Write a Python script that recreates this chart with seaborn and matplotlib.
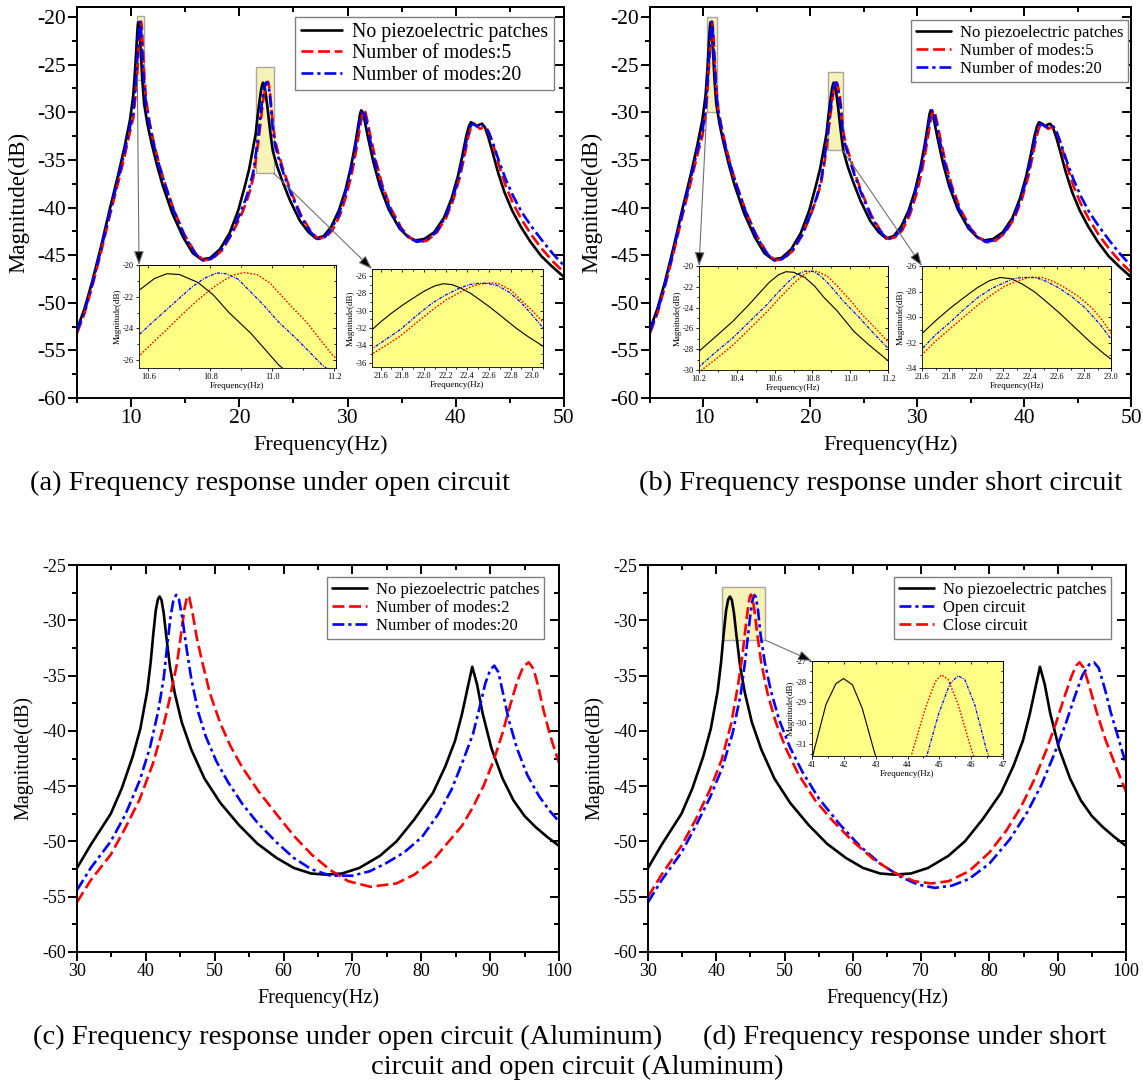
import matplotlib
matplotlib.use("Agg")
import matplotlib.pyplot as plt
from matplotlib.patches import Rectangle
from matplotlib.ticker import MultipleLocator, NullFormatter
import seaborn as sns

# ── Data: panel (a)/(b) – steel beam, 5–50 Hz ──────────────────────────────────
# no piezoelectric patches (same curve in a and b)
AB_BLACK_F = [5.0, 5.7, 6.4, 7.2, 8.0, 8.8, 9.4, 9.9, 10.2, 10.3, 10.38, 10.46, 10.52, 10.57,
              10.62, 10.66, 10.70, 10.76, 10.81, 10.86, 10.93, 11.02, 11.1, 11.2, 11.5, 11.9,
              12.4, 12.9, 13.8, 14.8, 15.7, 16.5, 17.3, 18.2, 19.1, 19.9, 20.5, 20.9, 21.2,
              21.52, 21.6, 21.7, 21.81, 21.92, 22.01, 22.1, 22.18, 22.26, 22.34, 22.43, 22.51,
              22.62, 22.73, 22.85, 22.95, 23.05, 23.1, 23.5, 24.0, 24.7, 25.6, 26.4, 27.1, 27.8,
              28.5, 29.2, 29.8, 30.3, 30.7, 31.0, 31.15, 31.26, 31.4, 31.6, 31.9, 32.4, 33.0,
              33.8, 34.8, 35.6, 36.3, 37.1, 38.0, 38.9, 39.6, 40.2, 40.6, 40.95, 41.2, 41.4,
              41.7, 41.96, 42.2, 42.43, 42.7, 43.0, 43.4, 43.9, 44.5, 45.2, 46.0, 46.9, 47.9,
              48.9, 50.0]
AB_BLACK_DB = [-52.8, -50.6, -47.8, -44.2, -40.3, -36.6, -33.6, -30.8, -28.2, -26.6, -25.3, -23.8,
               -22.6, -21.6, -20.85, -20.55, -20.6, -21.1, -21.9, -23.0, -24.3, -26.3, -27.6,
               -29.1, -31.2, -33.3, -35.6, -37.6, -40.6, -43.1, -44.8, -45.45, -45.3, -44.4,
               -42.7, -40.3, -37.8, -36.0, -34.2, -32.2, -31.3, -30.3, -29.3, -28.4, -27.7,
               -27.15, -26.9, -27.0, -27.4, -28.0, -28.7, -29.7, -30.8, -32.0, -32.9, -33.7,
               -34.1, -35.7, -37.3, -39.3, -41.4, -42.6, -43.25, -43.0, -42.0, -40.3, -38.2,
               -35.8, -33.4, -31.3, -30.2, -29.8, -30.0, -31.0, -32.7, -35.3, -37.8, -40.2,
               -42.2, -43.1, -43.45, -43.3, -42.6, -41.1, -39.1, -36.7, -34.6, -32.6, -31.5,
               -31.05, -31.2, -31.45, -31.3, -31.2, -31.6, -32.6, -34.2, -36.3, -38.4, -40.3,
               -42.0, -43.6, -45.1, -46.2, -47.3]

# (a) open circuit, number of modes 5
A_RED_F = [5.0, 5.7, 6.4, 7.2, 8.0, 8.8, 9.4, 9.9, 10.2, 10.4, 10.5, 10.57, 10.62, 10.66, 10.71,
           10.76, 10.81, 10.85, 10.88, 10.91, 10.95, 10.99, 11.03, 11.07, 11.11, 11.15, 11.19,
           11.25, 11.4, 11.7, 12.1, 12.6, 13.1, 13.9, 14.9, 15.9, 16.7, 17.5, 18.4, 19.3, 20.1,
           20.6, 21.0, 21.3, 21.52, 21.65, 21.78, 21.93, 22.08, 22.2, 22.33, 22.44, 22.54, 22.62,
           22.69, 22.8, 22.9, 23.0, 23.1, 23.3, 23.6, 24.1, 24.8, 25.7, 26.6, 27.3, 28.0, 28.6,
           29.3, 29.9, 30.4, 30.8, 31.1, 31.35, 31.5, 31.65, 31.85, 32.15, 32.6, 33.2, 34.0,
           35.0, 35.8, 36.5, 37.3, 38.2, 39.1, 39.8, 40.4, 40.8, 41.15, 41.4, 41.65, 41.95,
           42.25, 42.5, 42.8, 43.1, 43.5, 44.0, 44.6, 45.3, 46.1, 47.0, 48.0, 49.0, 50.0]
A_RED_DB = [-53.2, -51.1, -48.3, -44.8, -41.0, -37.4, -34.6, -32.0, -30.6, -28.4, -27.0, -25.75,
            -24.8, -24.06, -23.1, -22.2, -21.4, -20.9, -20.6, -20.48, -20.6, -21.1, -21.95,
            -22.8, -23.6, -24.6, -25.6, -26.7, -28.8, -31.0, -33.2, -35.5, -37.4, -40.1, -42.8,
            -44.7, -45.55, -45.4, -44.5, -42.8, -41.0, -39.6, -38.2, -36.8, -35.0, -34.0,
            -32.95, -31.4, -29.9, -28.8, -27.9, -27.2, -26.9, -26.8, -26.9, -27.6, -28.8, -30.0,
            -31.3, -32.9, -34.3, -36.2, -38.4, -40.8, -42.5, -43.3, -43.1, -42.4, -40.8, -38.7,
            -36.4, -34.0, -31.9, -30.3, -29.8, -30.0, -31.0, -32.7, -35.0, -37.6, -40.1, -42.2,
            -43.2, -43.65, -43.5, -42.7, -41.1, -39.1, -36.7, -34.6, -32.6, -31.6, -31.2,
            -31.45, -31.75, -31.6, -31.6, -32.3, -33.6, -35.6, -37.7, -39.6, -41.3, -42.9,
            -44.4, -45.7, -46.8]

# (a) open circuit, number of modes 20
A_BLUE_F = [5.0, 5.7, 6.4, 7.2, 8.0, 8.8, 9.4, 9.9, 10.2, 10.4, 10.5, 10.57, 10.62, 10.66, 10.7,
            10.74, 10.78, 10.82, 10.85, 10.89, 10.93, 10.97, 11.02, 11.08, 11.16, 11.22, 11.4,
            11.7, 12.1, 12.6, 13.1, 13.9, 14.9, 15.9, 16.6, 17.4, 18.3, 19.2, 20.0, 20.6, 21.0,
            21.3, 21.52, 21.65, 21.78, 21.93, 22.08, 22.2, 22.33, 22.42, 22.5, 22.58, 22.68,
            22.79, 22.9, 23.0, 23.1, 23.3, 23.6, 24.1, 24.8, 25.7, 26.6, 27.2, 27.9, 28.5, 29.2,
            29.8, 30.3, 30.7, 31.0, 31.25, 31.4, 31.55, 31.75, 32.05, 32.5, 33.1, 33.9, 34.9,
            35.7, 36.4, 37.2, 38.1, 39.0, 39.7, 40.3, 40.7, 41.05, 41.3, 41.55, 41.85, 42.15,
            42.45, 42.75, 43.05, 43.45, 43.95, 44.6, 45.3, 46.1, 47.0, 48.0, 49.0, 50.0]
A_BLUE_DB = [-53.0, -50.9, -48.1, -44.5, -40.7, -37.0, -34.1, -31.5, -30.0, -27.4, -25.7, -24.4,
             -23.5, -22.8, -22.1, -21.4, -20.85, -20.5, -20.55, -20.9, -21.7, -22.5, -23.6,
             -24.7, -26.3, -27.2, -29.4, -31.3, -33.4, -35.6, -37.5, -40.2, -42.9, -44.8,
             -45.55, -45.4, -44.5, -42.9, -40.8, -39.1, -37.6, -36.2, -34.4, -33.3, -32.2,
             -30.6, -29.1, -28.2, -27.4, -27.0, -26.85, -26.85, -27.1, -27.9, -29.1, -30.5,
             -32.0, -33.4, -34.7, -36.5, -38.6, -41.0, -42.6, -43.3, -43.1, -42.3, -40.7, -38.5,
             -36.2, -33.8, -31.8, -30.2, -29.8, -30.0, -31.0, -32.7, -35.0, -37.6, -40.1, -42.2,
             -43.2, -43.6, -43.45, -42.7, -41.1, -39.1, -36.7, -34.6, -32.6, -31.6, -31.2,
             -31.4, -31.6, -31.4, -31.5, -32.1, -33.3, -35.0, -37.0, -38.8, -40.5, -42.0, -43.5,
             -44.9, -46.1]

# (b) short circuit, number of modes 5
B_RED_F = [5.0, 5.7, 6.4, 7.2, 8.0, 8.8, 9.4, 9.9, 10.2, 10.3, 10.38, 10.47, 10.56, 10.63, 10.7,
           10.75, 10.79, 10.83, 10.88, 10.93, 11.0, 11.07, 11.14, 11.2, 11.4, 11.7, 12.1, 12.6,
           13.1, 13.9, 14.9, 15.9, 16.7, 17.5, 18.4, 19.3, 20.1, 20.6, 21.0, 21.3, 21.6, 21.7,
           21.81, 21.91, 22.01, 22.11, 22.21, 22.3, 22.39, 22.49, 22.57, 22.66, 22.76, 22.86,
           22.94, 23.02, 23.3, 23.6, 24.1, 24.8, 25.7, 26.6, 27.3, 28.0, 28.6, 29.3, 29.9, 30.4,
           30.8, 31.1, 31.35, 31.5, 31.65, 31.85, 32.15, 32.6, 33.2, 34.0, 35.0, 35.8, 36.5,
           37.3, 38.2, 39.1, 39.8, 40.4, 40.8, 41.15, 41.4, 41.65, 41.95, 42.25, 42.5, 42.8,
           43.1, 43.5, 44.0, 44.6, 45.3, 46.1, 47.0, 48.0, 49.0, 50.0]
B_RED_DB = [-53.2, -51.1, -48.3, -44.8, -41.0, -37.4, -34.6, -32.5, -30.2, -28.8, -27.6, -26.0,
            -24.4, -23.0, -21.7, -20.9, -20.5, -20.55, -21.0, -21.9, -23.3, -24.8, -26.1, -27.3,
            -29.8, -31.6, -33.6, -35.8, -37.6, -40.2, -42.8, -44.7, -45.55, -45.4, -44.5, -42.8,
            -40.6, -39.0, -37.5, -35.5, -32.95, -31.9, -30.9, -30.0, -29.1, -28.3, -27.6, -27.2,
            -26.9, -26.9, -27.2, -27.7, -28.4, -29.3, -30.3, -31.6, -33.3, -34.3, -36.2, -38.4,
            -40.8, -42.5, -43.3, -43.1, -42.4, -40.8, -38.7, -36.4, -34.0, -31.9, -30.3, -29.8,
            -30.0, -31.0, -32.7, -35.0, -37.6, -40.1, -42.2, -43.2, -43.65, -43.5, -42.7, -41.1,
            -39.1, -36.7, -34.6, -32.6, -31.6, -31.2, -31.45, -31.75, -31.6, -31.6, -32.3,
            -33.6, -35.6, -37.7, -39.6, -41.3, -42.9, -44.4, -45.7, -46.8]

# (b) short circuit, number of modes 20
B_BLUE_F = [5.0, 5.7, 6.4, 7.2, 8.0, 8.8, 9.4, 9.9, 10.2, 10.3, 10.38, 10.47, 10.56, 10.62, 10.68,
            10.72, 10.76, 10.8, 10.84, 10.89, 10.96, 11.04, 11.12, 11.2, 11.4, 11.7, 12.1, 12.6,
            13.1, 13.9, 14.9, 15.9, 16.6, 17.4, 18.3, 19.2, 20.0, 20.6, 21.0, 21.3, 21.6, 21.7,
            21.81, 21.91, 22.01, 22.11, 22.21, 22.28, 22.34, 22.44, 22.52, 22.61, 22.71, 22.81,
            22.92, 23.02, 23.3, 23.6, 24.1, 24.8, 25.7, 26.6, 27.2, 27.9, 28.5, 29.2, 29.8, 30.3,
            30.7, 31.0, 31.25, 31.4, 31.55, 31.75, 32.05, 32.5, 33.1, 33.9, 34.9, 35.7, 36.4,
            37.2, 38.1, 39.0, 39.7, 40.3, 40.7, 41.05, 41.3, 41.55, 41.85, 42.15, 42.45, 42.75,
            43.05, 43.45, 43.95, 44.6, 45.3, 46.1, 47.0, 48.0, 49.0, 50.0]
B_BLUE_DB = [-53.0, -50.9, -48.1, -44.5, -40.7, -37.0, -34.1, -32.0, -29.7, -28.1, -26.9, -25.3,
             -23.7, -22.5, -21.4, -20.8, -20.5, -20.5, -20.9, -21.8, -23.3, -24.8, -26.4, -27.9,
             -30.0, -31.8, -33.8, -35.9, -37.7, -40.3, -42.9, -44.8, -45.55, -45.4, -44.5,
             -42.9, -40.8, -38.9, -37.2, -35.0, -32.5, -31.4, -30.4, -29.4, -28.5, -27.8, -27.3,
             -27.0, -26.9, -26.9, -27.2, -27.7, -28.4, -29.3, -30.6, -32.0, -33.6, -34.7, -36.5,
             -38.6, -41.0, -42.6, -43.3, -43.1, -42.3, -40.7, -38.5, -36.2, -33.8, -31.8, -30.2,
             -29.8, -30.0, -31.0, -32.7, -35.0, -37.6, -40.1, -42.2, -43.2, -43.6, -43.45,
             -42.7, -41.1, -39.1, -36.7, -34.6, -32.6, -31.6, -31.2, -31.4, -31.6, -31.4, -31.5,
             -32.1, -33.3, -35.0, -37.0, -38.8, -40.5, -42.0, -43.5, -44.9, -46.1]

# ── Data: panel (c)/(d) – aluminum beam, 30–100 Hz ─────────────────────────────
CD_BLACK_F = [30, 32, 34.9, 36.5, 38.1, 39.2, 40.2, 40.7, 41.07, 41.44, 41.75, 41.99, 42.27, 42.58,
              42.94, 43.5, 44.2, 45.2, 46.6, 48.5, 50.8, 53.5, 56.2, 59, 61.5, 64, 66, 68.5, 71,
              74, 76.4, 79, 81.7, 83.5, 84.9, 85.9, 86.7, 87.4, 88.1, 88.9, 90.2, 91.8, 93.4,
              95.0, 96.6, 98.3, 100]
CD_BLACK_DB = [-52.4, -50.3, -47.5, -45.2, -42.3, -39.8, -36.4, -33.8, -31.3, -29.1, -28.1,
               -27.85, -28.15, -29.3, -31.3, -34.2, -36.6, -39.2, -41.7, -44.3, -46.5, -48.5,
               -50.2, -51.5, -52.4, -52.9, -53.0, -52.9, -52.4, -51.3, -50.0, -48.0, -45.6,
               -43.2, -40.9, -38.5, -36.2, -34.2, -35.8, -38.4, -41.6, -44.3, -46.3, -47.7,
               -48.7, -49.6, -50.4]

# (c) number of modes 2
C_RED_F = [30, 32, 34.9, 37, 39.1, 41.0, 42.3, 43.5, 44.5, 45.1, 45.6, 46.0, 46.3, 46.8, 47.4,
           48.2, 49.3, 50.8, 52.3, 54.0, 56.4, 58.8, 61.5, 64.1, 66.8, 69.4, 72.6, 76.4, 79,
           81.7, 84.0, 85.9, 87.5, 89.1, 90.5, 91.8, 92.9, 93.9, 94.8, 95.6, 96.3, 97.0, 97.7,
           98.7, 100]
C_RED_DB = [-55.5, -53.5, -51.2, -48.8, -46.2, -43.0, -40.2, -37.0, -34.0, -31.3, -29.0, -27.8,
            -27.9, -29.4, -31.6, -33.8, -36.6, -39.3, -41.4, -43.3, -45.5, -47.4, -49.5, -51.2,
            -52.6, -53.6, -54.1, -53.8, -53.0, -51.7, -50.0, -48.6, -46.9, -44.9, -42.7, -40.2,
            -37.7, -35.6, -34.2, -33.8, -34.4, -36.0, -38.0, -40.4, -42.9]

# (c) number of modes 20
C_BLUE_F = [30, 32, 34.9, 37, 39.1, 40.6, 41.8, 42.6, 43.1, 43.6, 44.0, 44.4, 44.8, 45.3, 45.9,
            46.6, 47.6, 48.7, 50.2, 51.9, 54, 56.2, 59, 61.5, 64, 66.8, 70, 72.5, 74.8, 77.5,
            80.1, 82.5, 84.4, 86.0, 87.5, 88.5, 89.3, 90.0, 90.6, 91.2, 91.8, 92.7, 93.9, 95.4,
            97.1, 98.6, 100]
C_BLUE_DB = [-54.4, -52.4, -50.0, -47.6, -44.5, -41.5, -38.2, -35.2, -32.3, -29.6, -28.2, -27.7,
             -28.1, -29.8, -32.5, -35.3, -38.3, -40.5, -42.7, -44.6, -46.6, -48.3, -50.1, -51.5,
             -52.5, -53.1, -53.1, -52.7, -52.0, -51.0, -49.6, -47.5, -45.3, -42.8, -40.3, -37.8,
             -35.7, -34.5, -34.1, -34.7, -36.4, -39.0, -41.6, -44.0, -45.9, -47.2, -48.2]

# (d) open circuit
D_BLUE_F = [30, 32, 34.9, 37, 39.1, 40.9, 42.4, 43.6, 44.2, 44.66, 44.97, 45.33, 45.59, 45.8,
            46.11, 46.48, 47.1, 48.0, 49.2, 50.8, 52.6, 55, 58, 61, 64, 67, 69.5, 72, 74.5, 77,
            80, 83, 85.5, 87.6, 89.5, 91.2, 92.5, 93.6, 94.6, 95.3, 96.0, 96.9, 97.8, 98.9, 100]
D_BLUE_DB = [-55.5, -53.5, -51.0, -48.6, -46.0, -43.3, -40.2, -36.6, -33.8, -31.3, -29.6, -28.1,
             -27.72, -27.9, -29.1, -31.3, -33.8, -36.4, -39.0, -41.5, -43.7, -46.1, -48.4, -50.4,
             -52.0, -53.2, -53.9, -54.2, -54.0, -53.4, -52.0, -49.8, -47.4, -44.9, -42.1, -39.3,
             -36.9, -35.0, -34.0, -33.8, -34.3, -36.2, -38.4, -40.7, -43.0]

# (d) close circuit
D_RED_F = [30, 32, 34.9, 37, 39.1, 40.8, 42.2, 43.2, 43.8, 44.19, 44.56, 44.87, 45.07, 45.28,
           45.59, 46.01, 46.6, 47.5, 48.7, 50.2, 52, 54.5, 57, 60, 63, 66, 69, 71.5, 74, 77, 80,
           82.5, 84.6, 86.5, 88.3, 89.8, 91.0, 92.0, 92.7, 93.2, 93.8, 94.6, 95.7, 97, 98.5, 100]
D_RED_DB = [-55.0, -53.0, -50.4, -48.0, -45.3, -42.6, -39.3, -35.8, -33.3, -31.2, -29.3, -28.0,
            -27.67, -27.9, -29.1, -31.3, -33.9, -36.6, -39.2, -41.6, -43.9, -46.3, -48.1, -50.0,
            -51.6, -52.8, -53.6, -53.8, -53.6, -52.7, -51.0, -49.0, -46.9, -44.5, -41.8, -39.2,
            -36.9, -35.1, -34.1, -33.8, -34.3, -35.9, -38.3, -40.8, -43.2, -45.5]

LEG_AB = ["No piezoelectric patches", "Number of modes:5", "Number of modes:20"]
LEG_C = ["No piezoelectric patches", "Number of modes:2", "Number of modes:20"]
LEG_D = ["No piezoelectric patches", "Open circuit", "Close circuit"]
CAPTIONS = ["(a) Frequency response under open circuit",
            "(b) Frequency response under short circuit",
            "(c) Frequency response under open circuit (Aluminum)",
            "(d) Frequency response under short",
            "circuit and open circuit (Aluminum)"]

# ── Style ───────────────────────────────────────────────────────────────────────
sns.set_theme(style="ticks")
plt.rcParams["font.family"] = ["Liberation Serif", "DejaVu Serif"]
plt.rcParams["axes.unicode_minus"] = False
for k in ["axes.edgecolor", "xtick.color", "ytick.color", "text.color", "axes.labelcolor"]:
    plt.rcParams[k] = "black"

RED, BLUE, BLACK = "#FF0000", "#0000FF", "black"
LS_RED = (0, (4.5, 1.8))
LS_BLUE = (0, (4.5, 1.5, 1.2, 1.5))
LS_RED_IN = (0, (1.2, 1.2))
LS_BLUE_IN = (0, (2.5, 1.0, 0.8, 1.0))
YELLOW = "#FFFF85"
W, H = 1143, 1084


def box(l, t, r, b):
    return [l / W, 1 - b / H, (r - l) / W, (b - t) / H]


def frame(ax, xt, yt, fs, lw, tl):
    ax.xaxis.set_major_locator(MultipleLocator(xt[0]))
    ax.xaxis.set_minor_locator(MultipleLocator(xt[1]))
    ax.yaxis.set_major_locator(MultipleLocator(yt[0]))
    ax.yaxis.set_minor_locator(MultipleLocator(yt[1]))
    ax.tick_params(which="major", direction="out", length=tl, width=lw, labelsize=fs, pad=1.5)
    ax.tick_params(which="minor", direction="out", length=tl * 0.55, width=lw)
    for s in ax.spines.values():
        s.set_linewidth(lw)
    top = ax.secondary_xaxis("top")
    right = ax.secondary_yaxis("right")
    for sec, axis, st in ((top, top.xaxis, xt), (right, right.yaxis, yt)):
        axis.set_major_locator(MultipleLocator(st[0]))
        axis.set_minor_locator(MultipleLocator(st[1]))
        axis.set_major_formatter(NullFormatter())
        sec.tick_params(which="major", direction="in", length=tl, width=lw)
        sec.tick_params(which="minor", direction="in", length=tl * 0.55, width=lw)
        for s in sec.spines.values():
            s.set_linewidth(lw)


def draw(ax, series, lw, labels=None):
    for i, (f, db, color, ls) in enumerate(series):
        sns.lineplot(x=f, y=db, ax=ax, color=color, linewidth=lw, linestyle=ls,
                     label=labels[i] if labels else None, legend=bool(labels),
                     estimator=None, sort=False, errorbar=None)


def legend(ax, anchor, fs, hl=2.1):
    leg = ax.legend(loc="upper right", bbox_to_anchor=anchor, fontsize=fs, fancybox=False,
                    edgecolor="#808080", framealpha=1, handlelength=hl, handletextpad=0.5,
                    labelspacing=0.12, borderpad=0.3, borderaxespad=0)
    leg.get_frame().set_linewidth(1.0)


def inset(rect, series, xl, yl, xt, yt):
    ins = fig.add_axes(box(*rect))
    ins.set_facecolor(YELLOW)
    styles = [(BLACK, "-", 0.8), (RED, LS_RED_IN, 1.0), (BLUE, LS_BLUE_IN, 0.9)]
    for (f, db), (c, ls, w) in zip(series, styles):
        sns.lineplot(x=f, y=db, ax=ins, color=c, linewidth=w, linestyle=ls,
                     legend=False, estimator=None, sort=False, errorbar=None)
    ins.set_xlim(*xl)
    ins.set_ylim(*yl)
    frame(ins, xt, yt, 6, 0.6, 2.2)
    ins.set_xlabel("Frequency(Hz)", fontsize=6.5, labelpad=0.5)
    ins.set_ylabel("Magnitude(dB)", fontsize=6.5, labelpad=0.5)
    return ins


def zoombox(ax, x0, y0, x1, y1):
    ax.add_patch(Rectangle((x0, y0), x1 - x0, y1 - y0, facecolor="#F7F2B8",
                           edgecolor="#A8A8A0", linewidth=1.0, zorder=1))


def arrow(ax, start, ins):
    ax.annotate("", xy=(0, 1), xycoords=ins.transAxes, xytext=start, textcoords="data",
                annotation_clip=False,
                arrowprops=dict(arrowstyle="-|>,head_length=0.7,head_width=0.25",
                                ec="#707070", fc="black", lw=0.8, shrinkA=0, shrinkB=0))


fig = plt.figure(figsize=(11.43, 10.84), dpi=100)

# ── (a) and (b) ─────────────────────────────────────────────────────────────────
panels_top = [
    (box(77, 7, 564, 398), A_RED_F, A_RED_DB, A_BLUE_F, A_BLUE_DB, (0.98, 0.975), 14.3),
    (box(650, 7, 1131, 398), B_RED_F, B_RED_DB, B_BLUE_F, B_BLUE_DB, (0.994, 0.967), 12),
]
top_axes = []
for pos, rf, rdb, bf, bdb, anchor, lfs in panels_top:
    ax = fig.add_axes(pos)
    draw(ax, [(AB_BLACK_F, AB_BLACK_DB, BLACK, "-"), (rf, rdb, RED, LS_RED),
              (bf, bdb, BLUE, LS_BLUE)], 1.9, LEG_AB)
    ax.set_xlim(5, 50)
    ax.set_ylim(-60, -18.95)
    frame(ax, (10, 5), (5, 2.5), 15.5, 1.4, 6.5)
    ax.set_xlabel("Frequency(Hz)", fontsize=16, labelpad=5)
    ax.set_ylabel("Magnitude(dB)", fontsize=16.5, labelpad=6)
    legend(ax, anchor, lfs)
    top_axes.append(ax)

ax_a, ax_b = top_axes
zoombox(ax_a, 10.57, -26.6, 11.2, -19.9)
zoombox(ax_a, 21.54, -36.4, 23.17, -25.2)
ia1 = inset((139, 265, 336, 368), [(AB_BLACK_F, AB_BLACK_DB), (A_RED_F, A_RED_DB), (A_BLUE_F, A_BLUE_DB)],
            (10.57, 11.205), (-26.5, -20), (0.2, 0.1), (2, 1))
ia2 = inset((372, 269, 543, 367), [(AB_BLACK_F, AB_BLACK_DB), (A_RED_F, A_RED_DB), (A_BLUE_F, A_BLUE_DB)],
            (21.52, 23.1), (-36.5, -25.2), (0.2, 0.1), (2, 1))
arrow(ax_a, (10.58, -26.6), ia1)
arrow(ax_a, (23.17, -36.4), ia2)

zoombox(ax_b, 10.3, -30.0, 11.25, -19.95)
zoombox(ax_b, 21.68, -34.0, 23.04, -25.8)
ib1 = inset((699, 266, 888, 370), [(AB_BLACK_F, AB_BLACK_DB), (B_RED_F, B_RED_DB), (B_BLUE_F, B_BLUE_DB)],
            (10.2, 11.2), (-30, -20), (0.2, 0.1), (2, 1))
ib2 = inset((922, 266, 1111, 368), [(AB_BLACK_F, AB_BLACK_DB), (B_RED_F, B_RED_DB), (B_BLUE_F, B_BLUE_DB)],
            (21.6, 23.0), (-34, -26), (0.2, 0.1), (2, 1))
arrow(ax_b, (10.3, -30.0), ib1)
arrow(ax_b, (23.04, -34.0), ib2)

# ── (c) and (d) ─────────────────────────────────────────────────────────────────
ax_c = fig.add_axes(box(77, 565, 559, 952))
draw(ax_c, [(CD_BLACK_F, CD_BLACK_DB, BLACK, "-"), (C_RED_F, C_RED_DB, RED, LS_RED),
            (C_BLUE_F, C_BLUE_DB, BLUE, LS_BLUE)], 1.9, LEG_C)
legend(ax_c, (0.969, 0.969), 12)

ax_d = fig.add_axes(box(648, 565, 1126, 952))
draw(ax_d, [(CD_BLACK_F, CD_BLACK_DB, BLACK, "-"), (D_BLUE_F, D_BLUE_DB, BLUE, LS_BLUE),
            (D_RED_F, D_RED_DB, RED, LS_RED)], 1.9, LEG_D)
legend(ax_d, (0.969, 0.969), 12)

for ax in (ax_c, ax_d):
    ax.set_xlim(30, 100)
    ax.set_ylim(-60, -25)
    frame(ax, (10, 5), (5, 2.5), 13, 1.4, 6.5)
    ax.set_xlabel("Frequency(Hz)", fontsize=14.5, labelpad=6)
    ax.set_ylabel("Magnitude(dB)", fontsize=14.5, labelpad=6)

zoombox(ax_d, 40.8, -31.8, 47.2, -27.0)
idd = inset((812, 661, 1003, 756), [(CD_BLACK_F, CD_BLACK_DB), (D_RED_F, D_RED_DB), (D_BLUE_F, D_BLUE_DB)],
            (41, 47), (-31.6, -27), (1, 0.5), (1, 0.5))
arrow(ax_d, (47.2, -31.8), idd)

# ── Captions ────────────────────────────────────────────────────────────────────
fig.text(270 / W, 1 - 483 / H, CAPTIONS[0], fontsize=20.5, ha="center", va="center")
fig.text(881 / W, 1 - 483 / H, CAPTIONS[1], fontsize=20.5, ha="center", va="center")
fig.text(33 / W, 1 - 1037 / H, CAPTIONS[2], fontsize=20.5, ha="left", va="center")
fig.text(703 / W, 1 - 1037 / H, CAPTIONS[3], fontsize=20.5, ha="left", va="center")
fig.text(577 / W, 1 - 1067 / H, CAPTIONS[4], fontsize=20.5, ha="center", va="center")

fig.savefig("out.png", dpi=100)
